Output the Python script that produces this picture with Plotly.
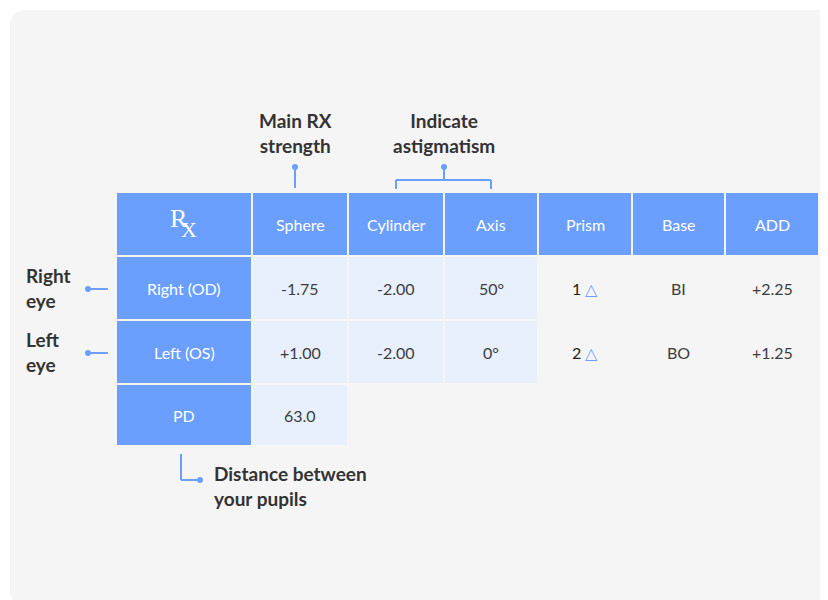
import plotly.graph_objects as go

# table content
col_headers = ["", "Sphere", "Cylinder", "Axis", "Prism", "Base", "ADD"]
row_labels = ["Right (OD)", "Left (OS)", "PD"]
right_vals = ["-1.75", "-2.00", "50°", "1", "BI", "+2.25"]
left_vals = ["+1.00", "-2.00", "0°", "2", "BO", "+1.25"]
pd_vals = ["63.0"]

# cell geometry (pixels)
col_x = [(109, 243), (245, 339), (341, 435), (437, 529), (531, 623), (625, 716), (718, 810)]
row_y = [(185, 247), (249, 311), (313, 375), (377, 437)]

BLUE = "#6a9eff"
LIGHT = "#e8effd"
BG = "#f5f5f5"
TXT = "#3d3d3d"
FONT = "Lato, Roboto, sans-serif"
SERIF = "Liberation Serif, serif"

fig = go.Figure()
shapes = []
ann = []

# background card
shapes.append(dict(type="path", path="M 18 2 L 810 2 Q 826 2 826 18 L 826 582 Q 826 598 810 598 L 18 598 Q 2 598 2 582 L 2 18 Q 2 2 18 2 Z",
                   fillcolor=BG, line=dict(width=0), layer="below"))


def cell(c, r, fill):
    x0, x1 = col_x[c]
    y0, y1 = row_y[r]
    shapes.append(dict(type="rect", x0=x0, x1=x1, y0=y0, y1=y1, fillcolor=fill, line=dict(width=0), layer="below"))
    return (x0 + x1) / 2, (y0 + y1) / 2


def text(x, y, t, color=TXT, size=16, family=FONT):
    ann.append(dict(x=x, y=y, text=t, showarrow=False, font=dict(family=family, size=size, color=color)))


# header row
for c, h in enumerate(col_headers):
    cx, cy = cell(c, 0, BLUE)
    if h:
        text(cx, cy, h, color="white")
cx = (col_x[0][0] + col_x[0][1]) / 2
text(cx - 5, 210, "R", color="white", size=26, family=SERIF)
text(cx + 5, 221, "X", color="white", size=22, family=SERIF)

# data rows
for r, (lab, vals) in enumerate([(row_labels[0], right_vals), (row_labels[1], left_vals)], start=1):
    cx, cy = cell(0, r, BLUE)
    text(cx, cy, lab, color="white")
    for i, v in enumerate(vals):
        c = i + 1
        cx, cy = cell(c, r, LIGHT if c <= 3 else BG)
        if c == 4:
            v = "<span style='color:#222'>" + v + "</span> <span style='color:%s'>△</span>" % BLUE
        text(cx, cy, v)
cx, cy = cell(0, 3, BLUE)
text(cx, cy, row_labels[2], color="white")
cx, cy = cell(1, 3, LIGHT)
text(cx, cy, pd_vals[0])

# callouts
line = dict(color=BLUE, width=2)
shapes += [
    dict(type="line", x0=287, x1=287, y0=159, y1=180, line=line),
    dict(type="line", x0=436, x1=436, y0=159, y1=172, line=line),
    dict(type="line", x0=388, x1=483, y0=172, y1=172, line=line),
    dict(type="line", x0=388, x1=388, y0=172, y1=181, line=line),
    dict(type="line", x0=483, x1=483, y0=172, y1=181, line=line),
    dict(type="line", x0=80, x1=100, y0=281, y1=281, line=line),
    dict(type="line", x0=80, x1=100, y0=345, y1=345, line=line),
    dict(type="line", x0=173, x1=173, y0=446, y1=472, line=line),
    dict(type="line", x0=173, x1=192, y0=472, y1=472, line=line),
]
fig.add_trace(go.Scatter(x=[287, 436, 80, 80, 192], y=[159, 159, 281, 345, 472], mode="markers",
                         marker=dict(color=BLUE, size=6), hoverinfo="skip"))

bold = dict(family=FONT, size=19, color="#333333")
ann += [
    dict(x=287, y=125, text="<b>Main RX<br>strength</b>", showarrow=False, font=bold),
    dict(x=436, y=125, text="<b>Indicate<br>astigmatism</b>", showarrow=False, font=bold),
    dict(x=16, y=280, text="<b>Right<br>eye</b>", showarrow=False, font=bold, xanchor="left", align="left"),
    dict(x=16, y=344, text="<b>Left<br>eye</b>", showarrow=False, font=bold, xanchor="left", align="left"),
    dict(x=204, y=478, text="<b>Distance between<br>your pupils</b>", showarrow=False, font=bold, xanchor="left", align="left"),
]

fig.update_layout(
    width=828, height=600, margin=dict(l=0, r=0, t=0, b=0),
    paper_bgcolor="white", plot_bgcolor="white", showlegend=False,
    xaxis=dict(range=[0, 828], visible=False, fixedrange=True),
    yaxis=dict(range=[600, 0], visible=False, fixedrange=True),
    shapes=shapes, annotations=ann,
)
fig.write_html("out.html")
